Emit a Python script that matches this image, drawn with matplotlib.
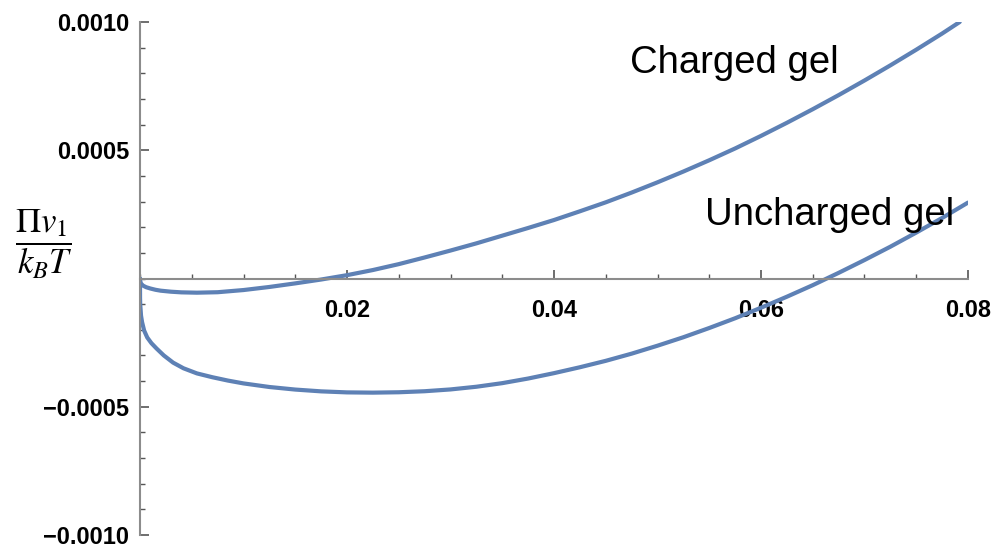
import matplotlib
matplotlib.use("Agg")
import matplotlib.pyplot as plt
from matplotlib.ticker import MultipleLocator, FixedLocator, FixedFormatter

# ---- data (y in units of 1e-6) ----
charged_x = [0.0, 0.00001, 0.0001, 0.0003, 0.0006, 0.001, 0.0015, 0.002, 0.003,
             0.004, 0.0055, 0.0075, 0.01, 0.0125, 0.015, 0.0175, 0.02, 0.0225,
             0.025, 0.0275, 0.03, 0.0325, 0.035, 0.0375, 0.04, 0.0425, 0.045,
             0.0475, 0.05, 0.0525, 0.055, 0.0575, 0.06, 0.0625, 0.065, 0.0675,
             0.07, 0.0725, 0.075, 0.0775, 0.0792]
charged_y_e6 = [0, -10, -20, -28, -34, -39, -44, -47.5, -51.5,
                -54, -55.3, -53.5, -45, -33, -19, -4, 13, 33,
                56, 82, 109, 137, 167, 197, 228, 262, 297,
                335, 375, 417, 461, 507, 556, 607, 660, 715,
                772, 831, 892, 955, 1000]

uncharged_x = [0.0, 0.000005, 0.00002, 0.0001, 0.0002, 0.0004, 0.0007, 0.0011,
               0.0016, 0.0023, 0.0032, 0.0042, 0.0055, 0.007, 0.0085, 0.01,
               0.0125, 0.015, 0.0175, 0.02, 0.0225, 0.025, 0.0275, 0.03, 0.0325,
               0.035, 0.0375, 0.04, 0.0425, 0.045, 0.0475, 0.05, 0.0525, 0.055,
               0.0575, 0.06, 0.0625, 0.065, 0.0675, 0.07, 0.0725, 0.075, 0.0775,
               0.08]
uncharged_y_e6 = [0, -75, -100, -145, -170, -203, -230, -252,
                  -273, -300, -328, -350, -370, -385, -398, -409,
                  -423, -433, -440, -444, -445, -443.5, -439.5, -432.5, -422,
                  -408, -390, -369, -346, -321, -293, -262, -229, -193,
                  -155, -114, -71, -26, 22, 72, 124, 179, 236,
                  296]

charged_y = [v * 1e-6 for v in charged_y_e6]
uncharged_y = [v * 1e-6 for v in uncharged_y_e6]

x_ticks = [0.02, 0.04, 0.06, 0.08]
x_tick_labels = ["0.02", "0.04", "0.06", "0.08"]
y_ticks = [-0.0010, -0.0005, 0.0005, 0.0010]
y_tick_labels = ["\u22120.0010", "\u22120.0005", "0.0005", "0.0010"]

curve_labels = ["Charged gel", "Uncharged gel"]
label_pos = [(0.04734, 0.000802), (0.05459, 0.000209)]

# ---- figure ----
plt.rcParams['mathtext.fontset'] = 'stix'
W, H = 1001, 547
fig = plt.figure(figsize=(W / 100, H / 100), dpi=100)
ax = fig.add_axes([140 / W, (H - 535) / H, 828 / W, 513 / H])

line_color = '#5E81B5'
for xs, ys in [(charged_x, charged_y), (uncharged_x, uncharged_y)]:
    ax.plot(xs, ys, color=line_color, lw=3.0, solid_capstyle='round',
            solid_joinstyle='round')

ax.set_xlim(0, 0.08)
ax.set_ylim(-0.001, 0.001)

for s in ['top', 'right']:
    ax.spines[s].set_visible(False)
ax.spines['bottom'].set_position(('data', 0))
spine_col = '#8c8c8c'
for s in ['left', 'bottom']:
    ax.spines[s].set_color(spine_col)
    ax.spines[s].set_linewidth(1.5)

ax.xaxis.set_major_locator(FixedLocator(x_ticks))
ax.xaxis.set_major_formatter(FixedFormatter(x_tick_labels))
ax.xaxis.set_minor_locator(MultipleLocator(0.005))
ax.yaxis.set_major_locator(FixedLocator(y_ticks))
ax.yaxis.set_major_formatter(FixedFormatter(y_tick_labels))
ax.yaxis.set_minor_locator(MultipleLocator(0.0001))

tick_col = '#555555'
ax.tick_params(axis='both', which='major', direction='in', length=6.5, width=1.2,
               color=tick_col, labelsize=17, labelcolor='black')
ax.tick_params(axis='both', which='minor', direction='in', length=3.8, width=1.0,
               color=tick_col)
ax.tick_params(axis='x', which='major', pad=15)
ax.tick_params(axis='y', which='major', pad=8)
for lab in ax.get_xticklabels() + ax.get_yticklabels():
    lab.set_fontfamily('Liberation Sans')
    lab.set_fontweight('bold')

# y-axis label as a fraction
fig.text(44 / W, 1 - 244 / H, r'$\dfrac{\Pi v_1}{k_B T}$', fontsize=25,
         ha='center', va='center')

for txt, (tx, ty) in zip(curve_labels, label_pos):
    ax.text(tx, ty, txt, fontsize=27.5, family='Liberation Sans', ha='left',
            va='baseline', clip_on=False)

fig.savefig('out.png', dpi=100)
